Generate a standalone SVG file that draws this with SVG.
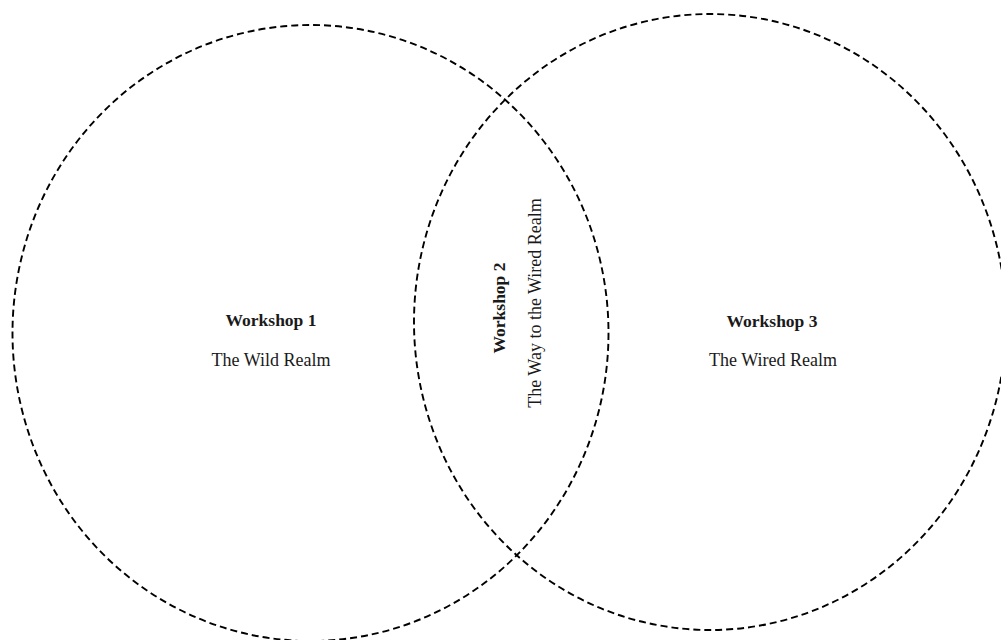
<svg xmlns="http://www.w3.org/2000/svg" width="1001" height="640" viewBox="0 0 1001 640">
<style>
.ring{fill:none;stroke:#000;stroke-width:1.9;stroke-dasharray:7 4}
.t{font-family:"Liberation Serif",serif;font-size:18px;fill:#1a1a1a;text-anchor:middle}
.b{font-weight:bold;font-size:17.5px}
</style>
<rect width="1001" height="640" fill="#fff"/>
<g id="workshop1">
<ellipse class="ring" cx="310.5" cy="333" rx="298" ry="308"/>
<text class="t b" x="271" y="326">Workshop 1</text>
<text class="t" x="271" y="366">The Wild Realm</text>
</g>
<g id="workshop3">
<ellipse class="ring" cx="710" cy="322" rx="296" ry="308"/>
<text class="t b" x="772" y="327">Workshop 3</text>
<text class="t" x="773" y="366">The Wired Realm</text>
</g>
<g id="workshop2">
<text class="t b" transform="translate(505,308) rotate(-90)">Workshop 2</text>
<text class="t" transform="translate(541,303) rotate(-90)">The Way to the Wired Realm</text>
</g>
<g id="connectors"/>
</svg>
